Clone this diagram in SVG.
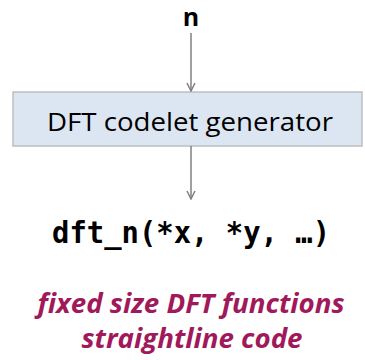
<svg xmlns="http://www.w3.org/2000/svg" width="365" height="360" viewBox="0 0 365 360">
  <style>
    .lbl { font-family: "Open Sans", "Noto Sans", sans-serif; fill: #000; }
    .code { font-family: "DejaVu Sans Mono", "Liberation Mono", monospace; font-weight: bold; fill: #000; }
    .note { font-family: "Open Sans", "Noto Sans", sans-serif; font-style: italic; font-weight: bold; fill: #A0195A; }
    .edge { stroke: #808080; stroke-width: 1.5; fill: none; }
  </style>
  <defs>
    <marker id="arr" viewBox="0 0 10 10" refX="9" refY="5" markerWidth="10" markerHeight="10" markerUnits="userSpaceOnUse" orient="auto">
      <path d="M1,1 L9,5 L1,9" fill="none" stroke="#808080" stroke-width="1.5"/>
    </marker>
  </defs>

  <g id="input-n">
    <text class="lbl" x="191" y="26" font-size="25" font-weight="bold" text-anchor="middle">n</text>
  </g>

  <g id="generator">
    <rect x="13" y="92" width="349" height="54" fill="#DCE6F2" stroke="#BFBFBF" stroke-width="1.5"/>
    <text class="lbl" x="190" y="131" font-size="26" text-anchor="middle" textLength="286" lengthAdjust="spacingAndGlyphs">DFT codelet generator</text>
  </g>

  <g id="output-code">
    <text class="code" x="191" y="243" font-size="30" text-anchor="middle" textLength="278" lengthAdjust="spacingAndGlyphs">dft_n(*x, *y, …)</text>
  </g>

  <g id="caption">
    <text class="note" x="191" y="313" font-size="26" text-anchor="middle" textLength="307" lengthAdjust="spacingAndGlyphs">fixed size DFT functions</text>
    <text class="note" x="192" y="348" font-size="26" text-anchor="middle" textLength="221" lengthAdjust="spacingAndGlyphs">straightline code</text>
  </g>

  <g id="connectors">
    <line class="edge" x1="191" y1="33" x2="191" y2="91" marker-end="url(#arr)"/>
    <line class="edge" x1="191" y1="146" x2="191" y2="199" marker-end="url(#arr)"/>
  </g>
</svg>
